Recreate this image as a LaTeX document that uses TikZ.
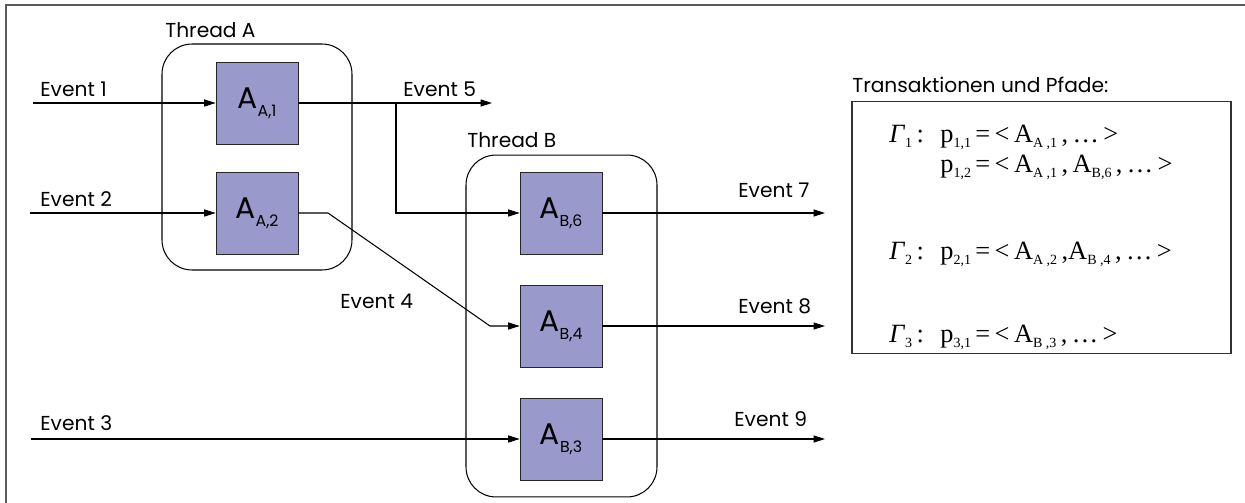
\documentclass[tikz,border=0pt]{standalone}
\usepackage{fontspec}
\setmainfont{Poppins}
\newfontfamily\formelfont{Liberation Serif}
\usetikzlibrary{arrows.meta, positioning}
\definecolor{aktfill}{RGB}{153,153,204}
\definecolor{rahmen}{RGB}{90,90,90}
\newcommand{\aktsub}[1]{\raisebox{-4.5pt}{\fontsize{9}{10}\selectfont #1}}
\newcommand{\tief}[1]{\raisebox{-0.4ex}{\footnotesize #1}}

\begin{document}
\begin{tikzpicture}[x=0.02cm, y=-0.02cm,
    akt/.style={draw=black!85, fill=aktfill, minimum size=1.64cm, inner sep=0pt, font=\fontsize{17}{19}\selectfont},
    thread/.style={draw=black, line width=0.6pt, rounded corners=0.6cm, inner sep=0pt},
    lbl/.style={font=\fontsize{11.5}{13}\selectfont, inner sep=0pt, anchor=base west},
    formel/.style={font=\formelfont\fontsize{15}{17}\selectfont, inner sep=0pt, anchor=base west},
    pfeil/.style={-{Triangle[length=6.5pt,width=4pt]}, line width=0.6pt}]
  \useasboundingbox (0,0) rectangle (1245,503);
  \draw[rahmen, line width=1.3pt] (6,503) -- (6,5) -- (1245,5);

  % Threads
  \node[thread, minimum width=3.8cm, minimum height=4.52cm] (threadA) at (257,157) {};
  \node[thread, minimum width=3.82cm, minimum height=6.84cm] (threadB) at (561.5,326) {};
  \node[lbl, anchor=base west] at (165,38) {Thread A};
  \node[lbl, anchor=base west] at (467,148) {Thread B};

  % Aktionen
  \node[akt] (aA1) at (257,103) {A\aktsub{A,1}};
  \node[akt] (aA2) at (257,213) {A\aktsub{A,2}};
  \node[akt] (aB6) at (561,213) {A\aktsub{B,6}};
  \node[akt] (aB4) at (561,326) {A\aktsub{B,4}};
  \node[akt] (aB3) at (561,439) {A\aktsub{B,3}};

  % freie Enden
  \coordinate (e1) at (33,103);
  \coordinate (e2) at (30,213);
  \coordinate (e3) at (31,439);
  \coordinate (e5) at (492,103);
  \coordinate (e7) at (825,213);
  \coordinate (e8) at (825,326);
  \coordinate (e9) at (825,439);
  \coordinate (abzw) at (396,103);
  \coordinate (knick1) at (328,213);
  \coordinate (knick2) at (490,326);

  % Eingaenge
  \draw[pfeil] (e1) -- (aA1);
  \draw[pfeil] (e2) -- (aA2);
  \draw[pfeil] (e3) -- (aB3);

  % Thread A -> Thread B
  \draw[pfeil] (aA1) -- (e5);
  \draw[pfeil] (abzw) |- (aB6);
  \draw[pfeil] (aA2.east) -- (knick1) -- (knick2) -- (aB4);

  % Ausgaenge
  \draw[pfeil] (aB6) -- (e7);
  \draw[pfeil] (aB4) -- (e8);
  \draw[pfeil] (aB3) -- (e9);

  % Beschriftungen
  \node[lbl] at (40,97) {Event 1};
  \node[lbl] at (40,207) {Event 2};
  \node[lbl] at (40,430) {Event 3};
  \node[lbl] at (340,309) {Event 4};
  \node[lbl] at (403,97) {Event 5};
  \node[lbl] at (738,198) {Event 7};
  \node[lbl] at (738,314) {Event 8};
  \node[lbl] at (734,426) {Event 9};

  % Transaktionen
  \node[lbl] at (852,93) {Transaktionen und Pfade:};
  \node[draw=black!80, line width=0.8pt, minimum width=7.58cm, minimum height=5.04cm, inner sep=0pt] (pfade) at (1041.5,227.5) {};
  \node[formel] (g1) at (889,143) {\textit{Γ}\tief{1}\,:};
  \node[formel] (p11) at (940,143) {p\tief{1,1}\,=\,<\,A\tief{A ,1}\,,\,…\,>};
  \node[formel] (p12) at (940,173) {p\tief{1,2}\,=\,<\,A\tief{A ,1}\,,\,A\tief{B,6}\,,\,…\,>};
  \node[formel] (g2) at (889,260) {\textit{Γ}\tief{2}\,:};
  \node[formel] (p21) at (940,260) {p\tief{2,1}\,=\,<\,A\tief{A ,2}\,,A\tief{B ,4}\,,\,…\,>};
  \node[formel] (g3) at (889,343) {\textit{Γ}\tief{3}\,:};
  \node[formel] (p31) at (940,343) {p\tief{3,1}\,=\,<\,A\tief{B ,3}\,,\,…\,>};
\end{tikzpicture}
\end{document}
